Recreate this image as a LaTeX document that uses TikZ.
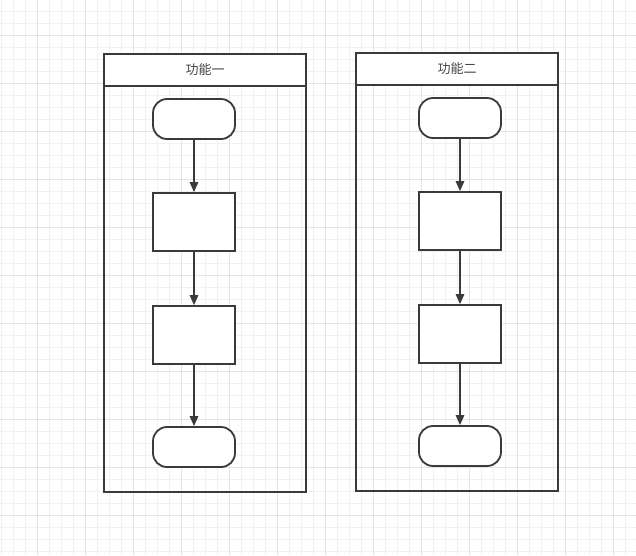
\documentclass[tikz,border=0pt]{standalone}
\usepackage{fontspec}
\newfontfamily\cjk{Noto Sans CJK SC}
\usetikzlibrary{arrows.meta}
\definecolor{minorgrid}{HTML}{F1F1F1}
\definecolor{majorgrid}{HTML}{E4E4E4}
\definecolor{ink}{HTML}{3A3A3A}
\definecolor{txt}{HTML}{444444}
\begin{document}
\begin{tikzpicture}[x=1pt,y=-1pt,
  box/.style={draw=ink,line width=1.8pt,fill=white,inner sep=0pt,minimum width=82pt,minimum height=58pt},
  term/.style={box,rounded corners=14pt,minimum height=40pt},
  lane/.style={draw=ink,line width=2pt,inner sep=0pt,minimum width=202pt,anchor=north west},
  head/.style={lane,fill=white,minimum height=32pt,text=txt,font=\cjk\fontsize{13}{15}\selectfont},
  flow/.style={draw=ink,line width=1.5pt,-{Triangle[width=8.5pt,length=10pt]}}]
\useasboundingbox (0,0) rectangle (636,555);
\fill[white] (0,0) rectangle (636,555);
\foreach \x in {1,13,...,637} \draw[minorgrid,line width=1pt] (\x,0) -- (\x,555);
\foreach \y in {11,23,...,555} \draw[minorgrid,line width=1pt] (0,\y) -- (636,\y);
\foreach \x in {37,85,...,637} \draw[majorgrid,line width=1pt] (\x,0) -- (\x,555);
\foreach \y in {35,83,...,555} \draw[majorgrid,line width=1pt] (0,\y) -- (636,\y);

% lane 1
\node[lane,minimum height=438pt] (lane1) at (103,53) {};
\node[head] (head1) at (103,53) {功能一};
\node[term] (t1a) at (194,119) {};
\node[box]  (r1a) at (194,222) {};
\node[box]  (r1b) at (194,335) {};
\node[term] (t1b) at (194,447) {};
\draw[flow] (t1a) -- (r1a);
\draw[flow] (r1a) -- (r1b);
\draw[flow] (r1b) -- (t1b);

% lane 2
\node[lane,minimum height=438pt] (lane2) at (355,52) {};
\node[head] (head2) at (355,52) {功能二};
\node[term] (t2a) at (460,118) {};
\node[box]  (r2a) at (460,221) {};
\node[box]  (r2b) at (460,334) {};
\node[term] (t2b) at (460,446) {};
\draw[flow] (t2a) -- (r2a);
\draw[flow] (r2a) -- (r2b);
\draw[flow] (r2b) -- (t2b);
\end{tikzpicture}
\end{document}
